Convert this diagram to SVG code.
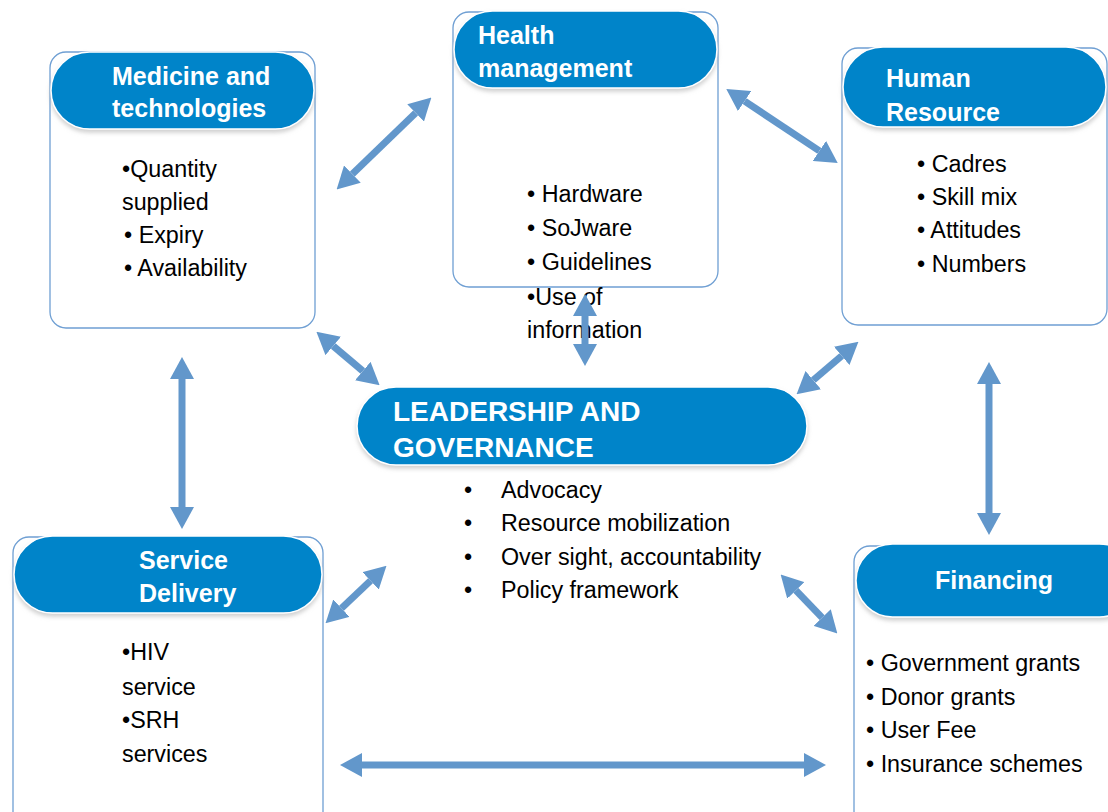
<svg xmlns="http://www.w3.org/2000/svg" width="1108" height="812" viewBox="0 0 1108 812">
<style>
.box{fill:#ffffff;stroke:#6f9fd3;stroke-width:1.3}
.hdr{fill:#0684c9;stroke:#ffffff;stroke-width:1.5}
.ht{font-family:"Liberation Sans",Arial,sans-serif;font-weight:bold;font-size:25px;fill:#ffffff}
.lt{font-family:"Liberation Sans",Arial,sans-serif;font-weight:bold;font-size:28px;fill:#ffffff}
.bt{font-family:"Liberation Sans",Arial,sans-serif;font-size:23.3px;fill:#000000}
.arr{stroke:#6297cb;stroke-width:7;fill:none}
</style>
<defs>
<filter id="sh" x="-10%" y="-10%" width="120%" height="130%">
<feDropShadow dx="0" dy="3" stdDeviation="2" flood-color="#b0b0b0" flood-opacity="0.6"/>
</filter>
<marker id="ah" viewBox="0 0 22 24" refX="0" refY="12" markerWidth="22" markerHeight="24" markerUnits="userSpaceOnUse" orient="auto-start-reverse">
<path d="M0,0 L22,12 L0,24 Z" fill="#6297cb"/>
</marker>
</defs>
<rect width="1108" height="812" fill="#ffffff"/>

<g id="medicine">
<rect class="box" x="50" y="52" width="265" height="276" rx="16"/>
<rect class="hdr" x="51" y="52" width="263" height="77" rx="38.5" filter="url(#sh)"/>
<text class="ht" x="112" y="85">Medicine and</text>
<text class="ht" x="112" y="117">technologies</text>
<text class="bt" x="122" y="177">•Quantity</text>
<text class="bt" x="122" y="210">supplied</text>
<text class="bt" x="124" y="243">• Expiry</text>
<text class="bt" x="124" y="276">• Availability</text>
</g>

<g id="health">
<rect class="box" x="453" y="12" width="265" height="275" rx="16"/>
<rect class="hdr" x="454" y="11" width="263" height="77" rx="38.5" filter="url(#sh)"/>
<text class="ht" x="478" y="44">Health</text>
<text class="ht" x="478" y="77">management</text>
<text class="bt" x="527" y="202">• Hardware</text>
<text class="bt" x="527" y="236">• SoJware</text>
<text class="bt" x="527" y="270">• Guidelines</text>
<text class="bt" x="527" y="305">•Use of</text>
<text class="bt" x="527" y="338">information</text>
</g>

<g id="human">
<rect class="box" x="842" y="48" width="265" height="277" rx="16"/>
<rect class="hdr" x="843" y="47" width="263" height="80" rx="40" filter="url(#sh)"/>
<text class="ht" x="886" y="87">Human</text>
<text class="ht" x="886" y="121">Resource</text>
<text class="bt" x="917" y="172">• Cadres</text>
<text class="bt" x="917" y="205">• Skill mix</text>
<text class="bt" x="917" y="238">• Attitudes</text>
<text class="bt" x="917" y="272">• Numbers</text>
</g>

<g id="leadership">
<rect class="hdr" x="357" y="387" width="450" height="78" rx="39" filter="url(#sh)"/>
<text class="lt" x="393" y="421">LEADERSHIP AND</text>
<text class="lt" x="393" y="457">GOVERNANCE</text>
<text class="bt" x="464" y="498">•</text>
<text class="bt" x="501" y="498">Advocacy</text>
<text class="bt" x="464" y="531">•</text>
<text class="bt" x="501" y="531">Resource mobilization</text>
<text class="bt" x="464" y="565">•</text>
<text class="bt" x="501" y="565">Over sight, accountability</text>
<text class="bt" x="464" y="598">•</text>
<text class="bt" x="501" y="598">Policy framework</text>
</g>

<g id="service">
<rect class="box" x="13" y="537" width="310" height="300" rx="16"/>
<rect class="hdr" x="14" y="536" width="308" height="77" rx="38.5" filter="url(#sh)"/>
<text class="ht" x="139" y="569">Service</text>
<text class="ht" x="139" y="602">Delivery</text>
<text class="bt" x="122" y="660">•HIV</text>
<text class="bt" x="122" y="695">service</text>
<text class="bt" x="122" y="728">•SRH</text>
<text class="bt" x="122" y="762">services</text>
</g>

<g id="financing">
<rect class="box" x="854" y="546" width="280" height="290" rx="16"/>
<rect class="hdr" x="856" y="544" width="280" height="73" rx="36.5" filter="url(#sh)"/>
<text class="ht" x="935" y="589">Financing</text>
<text class="bt" x="866" y="671">• Government grants</text>
<text class="bt" x="866" y="705">• Donor grants</text>
<text class="bt" x="866" y="738">• User Fee</text>
<text class="bt" x="866" y="772">• Insurance schemes</text>
</g>

<g id="connectors">
<line class="arr" x1="352.4" y1="174.1" x2="415.6" y2="112.9" marker-start="url(#ah)" marker-end="url(#ah)"/>
<line class="arr" x1="744.6" y1="101.1" x2="819.4" y2="150.9" marker-start="url(#ah)" marker-end="url(#ah)"/>
<line class="arr" x1="333.2" y1="346" x2="362.8" y2="371" marker-start="url(#ah)" marker-end="url(#ah)"/>
<line class="arr" x1="585" y1="316" x2="585" y2="344" marker-start="url(#ah)" marker-end="url(#ah)"/>
<line class="arr" x1="813.3" y1="380.1" x2="841.7" y2="355.9" marker-start="url(#ah)" marker-end="url(#ah)"/>
<line class="arr" x1="182" y1="379" x2="182" y2="507" marker-start="url(#ah)" marker-end="url(#ah)"/>
<line class="arr" x1="989" y1="384" x2="989" y2="513" marker-start="url(#ah)" marker-end="url(#ah)"/>
<line class="arr" x1="341.5" y1="608.2" x2="370.5" y2="580.8" marker-start="url(#ah)" marker-end="url(#ah)"/>
<line class="arr" x1="795.9" y1="590.4" x2="822.1" y2="617.6" marker-start="url(#ah)" marker-end="url(#ah)"/>
<line class="arr" x1="362" y1="765" x2="804" y2="765" marker-start="url(#ah)" marker-end="url(#ah)"/>
</g>
</svg>
